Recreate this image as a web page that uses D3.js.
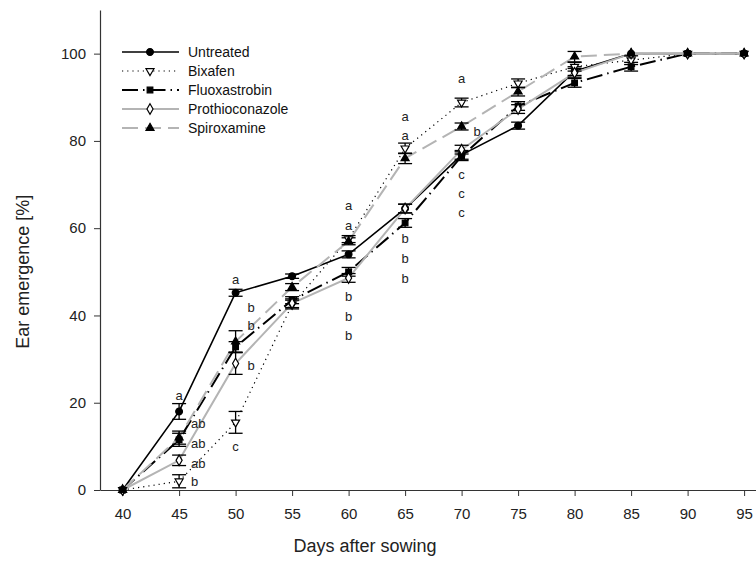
<!DOCTYPE html>
<html>
<head>
<meta charset="utf-8">
<script src="https://cdn.jsdelivr.net/npm/d3@7"></script>
<style>
  body { margin: 0; background: #fff; }
  svg { font-family: "Liberation Sans", Arial, sans-serif; }
  .axis path, .axis line { stroke: #333; }
  .axis text { font-size: 15px; fill: #222; }
</style>
</head>
<body>
<div id="chart"></div>
<script>
// data
const days = [40, 45, 50, 55, 60, 65, 70, 75, 80, 85, 90, 95];

const untreated = [0, 18, 45.2, 49, 54, 64.5, 76.8, 83.5, 96, 100, 100, 100];
const untreatedErr = [0, 1.8, 0.8, 0.5, 0.8, 1, 1, 0.8, 1, 0, 0, 0];

const bixafen = [0, 2, 15.5, 42.5, 57.5, 78.3, 88.8, 93.2, 97, 98.5, 100, 100];
const bixafenErr = [0, 1.5, 2.5, 1, 0.8, 1.2, 1, 1, 1, 1, 0, 0];

const fluoxastrobin = [0, 11.5, 32.8, 43.5, 50, 61.2, 76.5, 88, 93.3, 97, 100, 100];
const fluoxastrobinErr = [0, 1.5, 1.2, 0.8, 1, 1, 1, 1, 1, 1, 0, 0];

const prothioconazole = [0, 6.8, 29, 42.8, 48.6, 64.5, 78, 87.3, 95.6, 100, 100, 100];
const prothioconazoleErr = [0, 1.2, 2.5, 1, 1, 1, 1, 1, 1, 0, 0, 0];

const spiroxamine = [0, 12, 34, 46.5, 57, 76, 83.3, 91.3, 99.3, 100, 100, 100];
const spiroxamineErr = [0, 1.5, 2.5, 0.8, 0.8, 1.2, 0.8, 1, 1.2, 0, 0, 0];

// significance letters: day, level (in % units), text
const letterDays = [45, 45, 45, 45, 45, 50, 50, 50, 50, 50, 60, 60, 60, 60, 60, 65, 65, 65, 65, 65, 70, 70, 70, 70, 70];
const letterLevels = [21.8, 15.4, 10.8, 6.2, 2, 48.4, 42, 37.8, 28.7, 10, 65.4, 60.8, 44.5, 39.9, 35.5, 85.8, 81.4, 57.8, 53.2, 48.6, 94.5, 82.3, 72.5, 68.1, 63.8];
const letterTexts = ["a", "ab", "ab", "ab", "b", "a", "b", "b", "b", "c", "a", "a", "b", "b", "b", "a", "a", "b", "b", "b", "a", "b", "c", "c", "c"];
const letterShift = [0, 1, 1, 1, 1, 0, 1, 1, 1, 0, 0, 0, 0, 0, 0, 0, 0, 0, 0, 0, 0, 1, 0, 0, 0];

const xTicks = [40, 45, 50, 55, 60, 65, 70, 75, 80, 85, 90, 95];
const yTicks = [0, 20, 40, 60, 80, 100];

const series = [
    { name: "Untreated", values: untreated, err: untreatedErr, color: "#000", width: 1.6, dash: null, symbol: d3.symbolCircle, fill: "#000", size: 36, rot: 0 },
    { name: "Bixafen", values: bixafen, err: bixafenErr, color: "#000", width: 1.2, dash: "1.2,4", symbol: d3.symbolTriangle, fill: "#fff", size: 28, rot: 180 },
    { name: "Fluoxastrobin", values: fluoxastrobin, err: fluoxastrobinErr, color: "#000", width: 2, dash: "16,5,1.5,5", symbol: d3.symbolSquare, fill: "#000", size: 32, rot: 0 },
    { name: "Prothioconazole", values: prothioconazole, err: prothioconazoleErr, color: "#b4b4b4", width: 2, dash: null, symbol: d3.symbolDiamond, fill: "#fff", size: 32, rot: 0 },
    { name: "Spiroxamine", values: spiroxamine, err: spiroxamineErr, color: "#b4b4b4", width: 2, dash: "16,7", symbol: d3.symbolTriangle, fill: "#000", size: 28, rot: 0 }
];

const W = 756, H = 571;
const margin = { top: 10, left: 100, bottom: 81 };
const svg = d3.select("#chart").append("svg")
    .attr("width", W)
    .attr("height", H);

const x = d3.scaleLinear().domain([38, 98]).range([margin.left, margin.left + 678]);
const y = d3.scaleLinear().domain([0, 110]).range([H - margin.bottom, margin.top]);

// axes
svg.append("g")
    .attr("class", "axis")
    .attr("transform", `translate(0,${y(0)})`)
    .call(d3.axisBottom(x).tickValues(xTicks).tickSize(6).tickPadding(12).tickSizeOuter(0))
    .call(g => g.select(".domain").attr("stroke-width", 1.2));

svg.append("g")
    .attr("class", "axis")
    .attr("transform", `translate(${margin.left},0)`)
    .call(d3.axisLeft(y).tickValues(yTicks).tickSize(6).tickPadding(8).tickSizeOuter(0))
    .call(g => g.select(".domain").attr("stroke-width", 1.2));

// axis titles
svg.append("text")
    .attr("x", 365)
    .attr("y", 552)
    .attr("text-anchor", "middle")
    .style("font-size", "18px")
    .attr("fill", "#222")
    .text("Days after sowing");

svg.append("text")
    .attr("transform", `translate(29,${y(50)}) rotate(-90)`)
    .attr("text-anchor", "middle")
    .style("font-size", "18px")
    .attr("fill", "#222")
    .text("Ear emergence [%]");

const line = d3.line()
    .x((d, i) => x(days[i]))
    .y(d => y(d));

// lines
series.forEach(s => {
    svg.append("path")
        .datum(s.values)
        .attr("fill", "none")
        .attr("stroke", s.color)
        .attr("stroke-width", s.width)
        .attr("stroke-dasharray", s.dash)
        .attr("d", line);
});

// error bars
series.forEach(s => {
    const g = svg.append("g").attr("stroke", "#000").attr("stroke-width", 1.3);
    s.values.forEach((v, i) => {
        const e = s.err[i];
        if (!e) return;
        const cx = x(days[i]);
        g.append("line").attr("x1", cx).attr("x2", cx).attr("y1", y(v - e)).attr("y2", y(v + e));
        g.append("line").attr("x1", cx - 7).attr("x2", cx + 7).attr("y1", y(v - e)).attr("y2", y(v - e));
        g.append("line").attr("x1", cx - 7).attr("x2", cx + 7).attr("y1", y(v + e)).attr("y2", y(v + e));
    });
});

// markers
series.forEach(s => {
    svg.append("g").selectAll("path")
        .data(s.values)
        .join("path")
        .attr("d", d3.symbol().type(s.symbol).size(s.size))
        .attr("transform", (d, i) => `translate(${x(days[i])},${y(d)}) rotate(${s.rot})`)
        .attr("fill", s.fill)
        .attr("stroke", "#000")
        .attr("stroke-width", 1.2);
});

// letters
svg.append("g").selectAll("text")
    .data(letterTexts)
    .join("text")
    .attr("x", (d, i) => x(letterDays[i]) + (letterShift[i] ? 12 : 0))
    .attr("y", (d, i) => y(letterLevels[i]) + 5)
    .attr("text-anchor", (d, i) => letterShift[i] ? "start" : "middle")
    .style("font-size", "13px")
    .attr("fill", "#222")
    .text(d => d);

// legend
const legend = svg.append("g").attr("transform", "translate(122,52)");
series.forEach((s, i) => {
    const row = legend.append("g").attr("transform", `translate(0,${i * 19})`);
    row.append("line")
        .attr("x1", 0).attr("x2", 57)
        .attr("stroke", s.color)
        .attr("stroke-width", s.width)
        .attr("stroke-dasharray", s.dash);
    row.append("path")
        .attr("d", d3.symbol().type(s.symbol).size(s.size))
        .attr("transform", `translate(28,0) rotate(${s.rot})`)
        .attr("fill", s.fill)
        .attr("stroke", "#000")
        .attr("stroke-width", 1.2);
    row.append("text")
        .attr("x", 66)
        .attr("y", 5)
        .style("font-size", "14px")
        .attr("fill", "#111")
        .text(s.name);
});
</script>
</body>
</html>
